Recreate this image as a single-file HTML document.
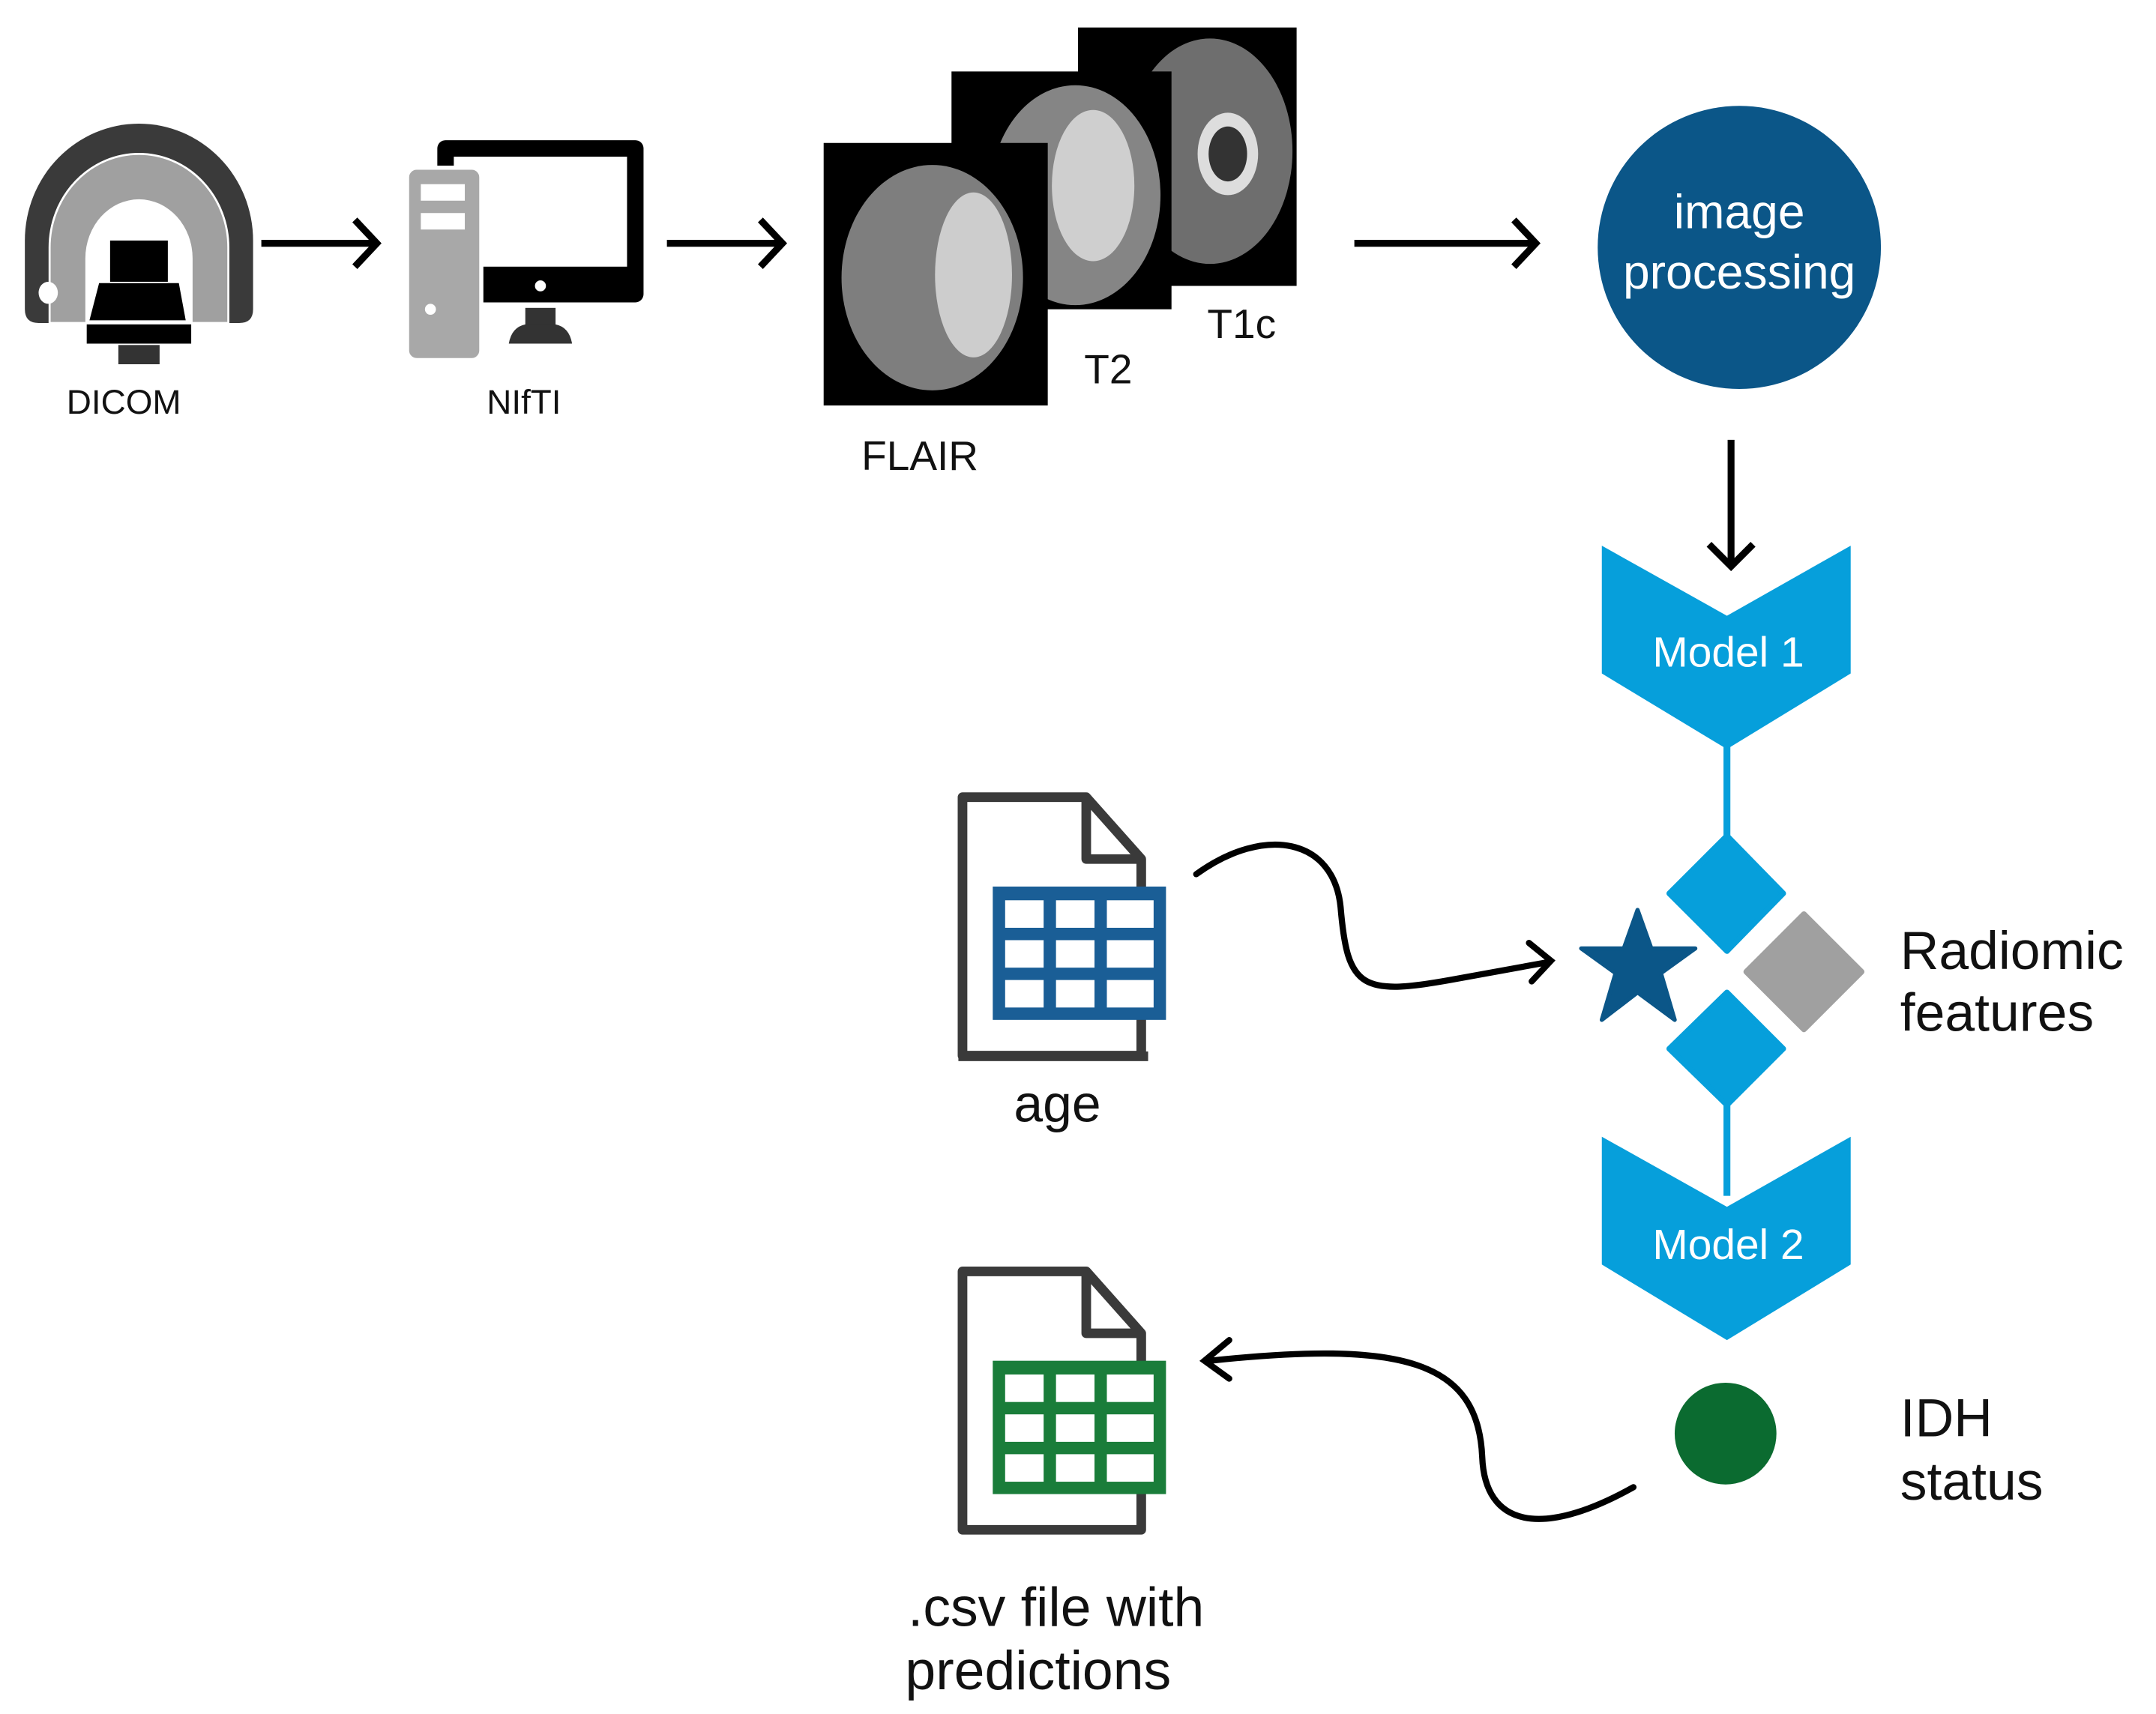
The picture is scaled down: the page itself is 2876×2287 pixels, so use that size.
<!DOCTYPE html>
<html><head><meta charset="utf-8"><style>
html,body{margin:0;padding:0;background:#fff;}
svg{display:block;}
text{font-family:"Liberation Sans",sans-serif;}
</style></head><body>
<svg width="2876" height="2287" viewBox="0 0 1568 1247" xmlns="http://www.w3.org/2000/svg">
<!-- DICOM scanner -->
<path d="M18,225 L18,175 A83,85 0 0 1 184,175 L184,225 Q184,235 174,235 L28,235 Q18,235 18,225 Z" fill="#3a3a3a"/>
<path d="M36,235 L36,180 A65,68 0 0 1 166,180 L166,235 Z" fill="#a0a0a0" stroke="#fff" stroke-width="1.5"/>
<path d="M62,235 L62,188 A39,43 0 0 1 140,188 L140,235 Z" fill="#fff"/>
<rect x="80" y="175" width="42" height="30" fill="#000"/>
<path d="M72,206 L130,206 L135,233 L65,233 Z" fill="#000"/>
<rect x="63" y="236" width="76" height="14" fill="#000"/>
<rect x="86" y="251" width="30" height="14" fill="#333"/>
<ellipse cx="35" cy="213" rx="7" ry="8" fill="#fff"/>
<text x="90" y="301" font-size="25" text-anchor="middle" fill="#111">DICOM</text>
<!-- arrows top -->
<g stroke="#000" stroke-width="5" fill="none">
<line x1="190" y1="177" x2="272" y2="177"/><polyline points="258,160 274,177 258,194"/>
<line x1="485" y1="177" x2="567" y2="177"/><polyline points="553,160 569,177 553,194"/>
<line x1="985" y1="177" x2="1115" y2="177"/><polyline points="1101,160 1117,177 1101,194"/>
<line x1="1259" y1="320" x2="1259" y2="410"/><polyline points="1243,396 1259,412 1275,396"/>
</g>
<!-- NIfTI -->
<rect x="318" y="102" width="150" height="118" rx="6" fill="#000"/>
<rect x="330" y="114" width="126" height="80" fill="#fff"/>
<circle cx="393" cy="208" r="4" fill="#fff"/>
<rect x="382" y="224" width="22" height="14" fill="#333"/>
<path d="M370,250 Q372,238 382,236 L404,236 Q414,238 416,250 Z" fill="#333"/>
<rect x="296" y="122" width="54" height="140" rx="7" fill="#a8a8a8" stroke="#fff" stroke-width="3"/>
<rect x="306" y="134" width="32" height="12" fill="#fff"/>
<rect x="306" y="155" width="32" height="12" fill="#fff"/>
<circle cx="313" cy="225" r="4" fill="#fff"/>
<text x="381" y="301" font-size="25" text-anchor="middle" fill="#111">NIfTI</text>
<!-- MRI images -->
<rect x="784" y="20" width="159" height="188" fill="#000"/>
<ellipse cx="880" cy="110" rx="60" ry="82" fill="#6e6e6e"/>
<ellipse cx="893" cy="112" rx="22" ry="30" fill="#ddd"/>
<ellipse cx="893" cy="112" rx="14" ry="20" fill="#333"/>
<rect x="692" y="52" width="160" height="173" fill="#000"/>
<ellipse cx="782" cy="142" rx="62" ry="80" fill="#858585"/>
<ellipse cx="795" cy="135" rx="30" ry="55" fill="#cfcfcf"/>
<rect x="599" y="104" width="163" height="191" fill="#000"/>
<ellipse cx="678" cy="202" rx="66" ry="82" fill="#7e7e7e"/>
<ellipse cx="708" cy="200" rx="28" ry="60" fill="#cdcdcd"/>
<text x="903" y="246" font-size="30" text-anchor="middle" fill="#111">T1c</text>
<text x="806" y="279" font-size="30" text-anchor="middle" fill="#111">T2</text>
<text x="669" y="342" font-size="30" text-anchor="middle" fill="#111">FLAIR</text>
<!-- image processing -->
<circle cx="1265" cy="180" r="103" fill="#0b5688"/>
<text x="1265" y="166" font-size="35" text-anchor="middle" fill="#fff">image</text>
<text x="1265" y="210" font-size="35" text-anchor="middle" fill="#fff">processing</text>
<!-- Model 1 -->
<polygon points="1165,397 1256,448 1346,397 1346,490 1256,545 1165,490" fill="#069fdb"/>
<text x="1257" y="485" font-size="31" text-anchor="middle" fill="#fff">Model 1</text>
<line x1="1256" y1="540" x2="1256" y2="615" stroke="#069fdb" stroke-width="5"/>
<path d="M1256,608 L1297,650 L1256,692 L1214,650 Z" fill="#069fdb" stroke="#069fdb" stroke-width="4" stroke-linejoin="round"/>
<path d="M1256,722 L1297,763 L1256,804 L1214,763 Z" fill="#069fdb" stroke="#069fdb" stroke-width="4" stroke-linejoin="round"/>
<path d="M1312,665 L1354,707 L1312,749 L1270,707 Z" fill="#a0a0a0" stroke="#a0a0a0" stroke-width="4" stroke-linejoin="round"/>
<polygon points="1191,662 1201,690 1233,690 1208,708 1218,742 1191,722 1165,742 1175,708 1150,690 1181,690" fill="#0b5688" stroke="#0b5688" stroke-width="3" stroke-linejoin="round"/>
<line x1="1256" y1="800" x2="1256" y2="870" stroke="#069fdb" stroke-width="5"/>
<!-- Model 2 -->
<polygon points="1165,827 1256,878 1346,827 1346,920 1256,975 1165,920" fill="#069fdb"/>
<text x="1257" y="916" font-size="31" text-anchor="middle" fill="#fff">Model 2</text>
<circle cx="1255" cy="1043" r="37" fill="#0b6b30"/>
<text x="1382" y="705" font-size="39" fill="#111">Radiomic</text>
<text x="1382" y="750" font-size="39" fill="#111">features</text>
<text x="1382" y="1045" font-size="39" fill="#111">IDH</text>
<text x="1382" y="1091" font-size="39" fill="#111">status</text>
<!-- age doc -->
<g fill="none" stroke="#3a3a3a" stroke-width="7" stroke-linejoin="round">
<path d="M700,768 L700,580 L790,580 L830,625 L830,768 Z M790,580 L790,625 L830,625"/>
</g>
<rect x="697" y="765" width="138" height="7" fill="#3a3a3a"/>
<rect x="722" y="645" width="126" height="97" fill="#1a5e96"/>
<g fill="#fff"><rect x="731" y="655" width="28" height="20"/><rect x="768" y="655" width="28" height="20"/><rect x="805" y="655" width="34" height="20"/>
<rect x="731" y="684" width="28" height="20"/><rect x="768" y="684" width="28" height="20"/><rect x="805" y="684" width="34" height="20"/>
<rect x="731" y="713" width="28" height="20"/><rect x="768" y="713" width="28" height="20"/><rect x="805" y="713" width="34" height="20"/></g>
<text x="769" y="816" font-size="38" text-anchor="middle" fill="#111">age</text>
<!-- csv doc -->
<g fill="none" stroke="#3a3a3a" stroke-width="7" stroke-linejoin="round">
<path d="M700,1113 L700,925 L790,925 L830,970 L830,1113 Z M790,925 L790,970 L830,970"/>
</g>
<rect x="722" y="990" width="126" height="97" fill="#1a7d3a"/>
<g fill="#fff"><rect x="731" y="1000" width="28" height="20"/><rect x="768" y="1000" width="28" height="20"/><rect x="805" y="1000" width="34" height="20"/>
<rect x="731" y="1029" width="28" height="20"/><rect x="768" y="1029" width="28" height="20"/><rect x="805" y="1029" width="34" height="20"/>
<rect x="731" y="1058" width="28" height="20"/><rect x="768" y="1058" width="28" height="20"/><rect x="805" y="1058" width="34" height="20"/></g>
<text x="768" y="1183" font-size="40" text-anchor="middle" fill="#111">.csv file with</text>
<text x="755" y="1229" font-size="40" text-anchor="middle" fill="#111">predictions</text>
<!-- curved arrows -->
<g stroke="#000" stroke-width="4.5" fill="none" stroke-linecap="round">
<path d="M870,636 C920,600 970,610 975,660 C980,720 990,725 1060,712 L1126,700"/>
<polyline points="1112,686 1128,699 1114,714"/>
<path d="M1188,1082 C1120,1120 1080,1110 1078,1060 C1075,990 1020,975 880,990"/>
<polyline points="894,975 876,990 894,1003"/>
</g>
</svg>
</body></html>
